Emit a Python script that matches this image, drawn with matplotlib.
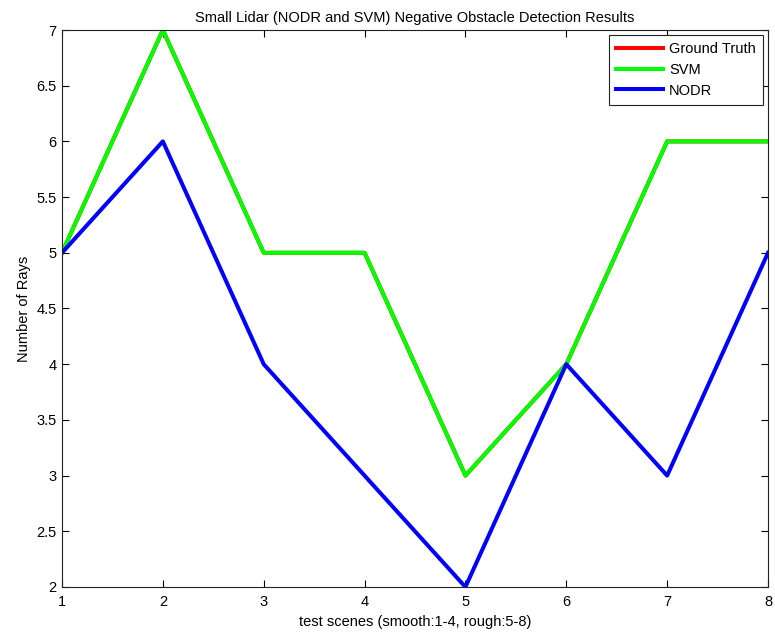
import matplotlib
matplotlib.use("Agg")
import matplotlib.pyplot as plt

scenes = [1, 2, 3, 4, 5, 6, 7, 8]
ground_truth = [5, 7, 5, 5, 3, 4, 6, 6]
svm = [5, 7, 5, 5, 3, 4, 6, 6]
nodr = [5, 6, 4, 3, 2, 4, 3, 5]
yticks = [2, 2.5, 3, 3.5, 4, 4.5, 5, 5.5, 6, 6.5, 7]

plt.rcParams['font.family'] = ['Liberation Sans', 'DejaVu Sans']
fig = plt.figure(figsize=(7.75, 6.34), dpi=100)
ax = fig.add_axes([62/775, 47/634, 706/775, 557/634])
lw = 2.9
fs = 10.5
ax.plot(scenes, ground_truth, color='#ff0000', lw=lw, label='Ground Truth')
ax.plot(scenes, svm, color='#00ff00', lw=lw, label='SVM')
ax.plot(scenes, nodr, color='#0000ff', lw=lw, label='NODR')
ax.set_xlim(1, 8)
ax.set_ylim(2, 7)
ax.set_xticks(scenes)
ax.set_yticks(yticks)
ax.set_yticklabels([f"{v:g}" for v in yticks])
ax.tick_params(direction='in', top=True, right=True, labelsize=fs, length=5, width=0.8)
ax.tick_params(axis='x', pad=6)
ax.tick_params(axis='y', pad=4)
for s in ax.spines.values():
    s.set_linewidth(0.8)
    s.set_color('#222222')
ax.set_title('Small Lidar (NODR and SVM) Negative Obstacle Detection Results', fontsize=fs, pad=6)
ax.set_xlabel('test scenes (smooth:1-4, rough:5-8)', fontsize=fs, labelpad=4)
ax.set_ylabel('Number of Rays', fontsize=fs, labelpad=4)
leg = ax.legend(loc='upper right', fontsize=fs, fancybox=False, framealpha=1,
                edgecolor='#222222', borderaxespad=0.35, handlelength=3.2,
                labelspacing=0.45, borderpad=0.5, handletextpad=0.4)
leg.get_frame().set_linewidth(0.8)
fig.savefig('out.png', dpi=100)
